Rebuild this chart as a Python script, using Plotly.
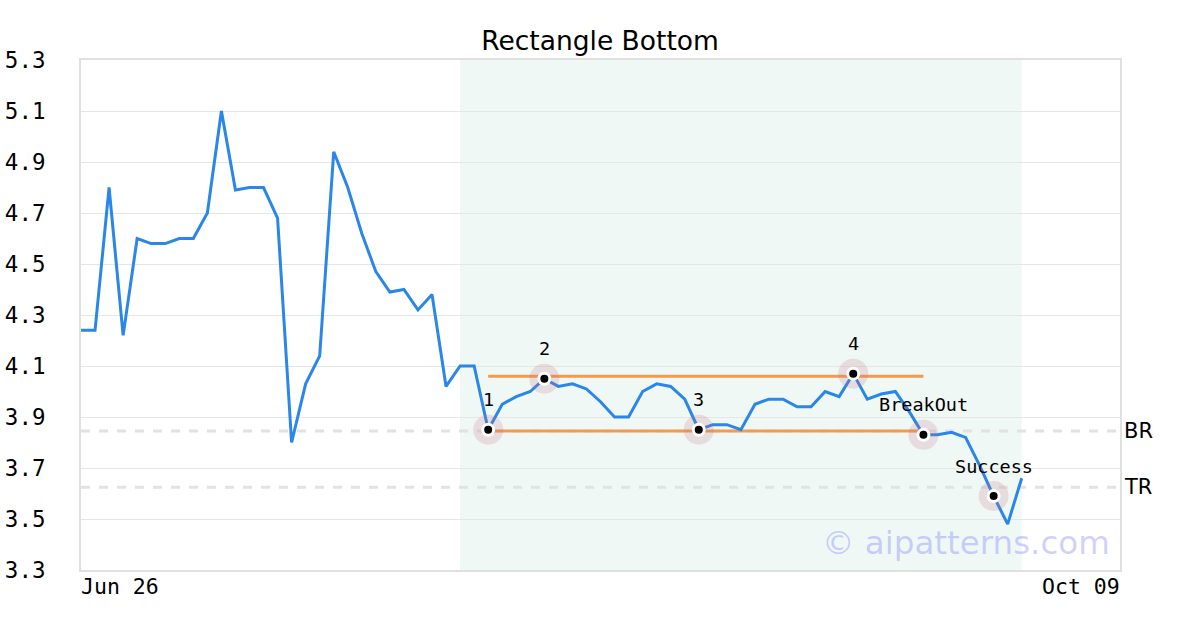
import plotly.graph_objects as go

# price series, one value per trading day
prices = [4.24, 4.24, 4.80, 4.22, 4.60, 4.58, 4.58, 4.60, 4.60, 4.70,
          5.10, 4.79, 4.80, 4.80, 4.68, 3.80, 4.03, 4.14, 4.94, 4.80,
          4.62, 4.47, 4.39, 4.40, 4.32, 4.38, 4.02, 4.10, 4.10, 3.85,
          3.95, 3.98, 4.00, 4.05, 4.02, 4.03, 4.01, 3.96, 3.90, 3.90,
          4.00, 4.03, 4.02, 3.97, 3.85, 3.87, 3.87, 3.85, 3.95, 3.97,
          3.97, 3.94, 3.94, 4.00, 3.98, 4.07, 3.97, 3.99, 4.00, 3.92,
          3.83, 3.83, 3.84, 3.82, 3.71, 3.59, 3.48, 3.66]
days = list(range(len(prices)))

# pattern points
point_idx = [29, 33, 44, 55, 60, 65]
point_labels = ["1", "2", "3", "4", "BreakOut", "Success"]

# rectangle lines
rect_start, rect_end = 29, 60
rect_top = 4.06
rect_bottom = 3.845

# reference levels
level_names = ["BR", "TR"]
level_values = [3.845, 3.625]

# shaded pattern window
shade_start, shade_end = 27, 67

x_end = 74
x_labels = ["Jun 26", "Oct 09"]
y_ticks = [3.3, 3.5, 3.7, 3.9, 4.1, 4.3, 4.5, 4.7, 4.9, 5.1, 5.3]

mono = "DejaVu Sans Mono"
sans = "DejaVu Sans"

fig = go.Figure()

fig.add_shape(type="rect", xref="x", yref="paper", x0=shade_start, x1=shade_end,
              y0=0, y1=1, fillcolor="#eff8f5", line_width=0, layer="below")

for v in level_values:
    fig.add_trace(go.Scatter(x=[0, x_end], y=[v, v], mode="lines",
                             line=dict(color="#e2e2e2", width=3, dash="dash"),
                             hoverinfo="skip", showlegend=False))

for v in [rect_top, rect_bottom]:
    fig.add_trace(go.Scatter(x=[rect_start, rect_end], y=[v, v], mode="lines",
                             line=dict(color="#f59a4c", width=3),
                             hoverinfo="skip", showlegend=False))

fig.add_trace(go.Scatter(x=days, y=prices, mode="lines",
                         line=dict(color="#2a86e8", width=3),
                         showlegend=False))

px_ = [days[i] for i in point_idx]
py_ = [prices[i] for i in point_idx]
fig.add_trace(go.Scatter(x=px_, y=py_, mode="markers",
                         marker=dict(size=30, color="rgba(195,110,130,0.2)"),
                         hoverinfo="skip", showlegend=False))
fig.add_trace(go.Scatter(x=px_, y=py_, mode="markers",
                         marker=dict(size=14, color="white"),
                         hoverinfo="skip", showlegend=False))
fig.add_trace(go.Scatter(x=px_, y=py_, mode="markers",
                         marker=dict(size=8, color="black"),
                         showlegend=False))

for x, y, t in zip(px_, py_, point_labels):
    fig.add_annotation(x=x, y=y, text=t, showarrow=False, yshift=30,
                       font=dict(family=mono, size=18.5, color="black"))

for name, v in zip(level_names, level_values):
    fig.add_annotation(x=1, xref="paper", y=v, text=name, showarrow=False,
                       xanchor="left", xshift=2,
                       font=dict(family=sans, size=21, color="black"))

fig.add_annotation(x=0, y=0, xref="x", yref="paper", text=x_labels[0],
                   showarrow=False, xanchor="left", yanchor="top",
                   xshift=-2, yshift=-2,
                   font=dict(family=mono, size=21.5, color="black"))
fig.add_annotation(x=x_end, y=0, xref="x", yref="paper", text=x_labels[1],
                   showarrow=False, xanchor="right", yanchor="top",
                   xshift=2, yshift=-2,
                   font=dict(family=mono, size=21.5, color="black"))

fig.add_annotation(x=1, y=0.012, xref="paper", yref="paper",
                   text="© aipatterns.com", showarrow=False,
                   xanchor="right", yanchor="bottom", xshift=-8,
                   font=dict(family=sans, size=32.5, color="rgba(120,120,255,0.35)"))

fig.update_layout(
    width=1200, height=630,
    title=dict(text="Rectangle Bottom", x=0.5, xanchor="center", y=0.936,
               yanchor="middle", font=dict(family=sans, size=26.5, color="black")),
    plot_bgcolor="white", paper_bgcolor="white",
    margin=dict(l=81, r=80, t=60, b=60),
    xaxis=dict(range=[0, x_end], showticklabels=False, showgrid=False,
               zeroline=False, showline=True, linecolor="#e0e0e0",
               linewidth=2, mirror=True, fixedrange=True, automargin=False),
    yaxis=dict(range=[3.3, 5.3], tickvals=y_ticks,
               ticktext=[f"{v:.1f}" for v in y_ticks],
               showgrid=True, gridcolor="#e6e6e6", gridwidth=1,
               zeroline=False, showline=True, linecolor="#e0e0e0",
               linewidth=2, mirror=True, ticklabelstandoff=29, automargin=False,
               tickfont=dict(family=mono, size=22.5, color="black")),
)

# drop the page's default body margin so the figure sits at the window origin
fig.write_html("out.html", config={"displayModeBar": False},
               post_script="document.body.style.margin='0px';")
